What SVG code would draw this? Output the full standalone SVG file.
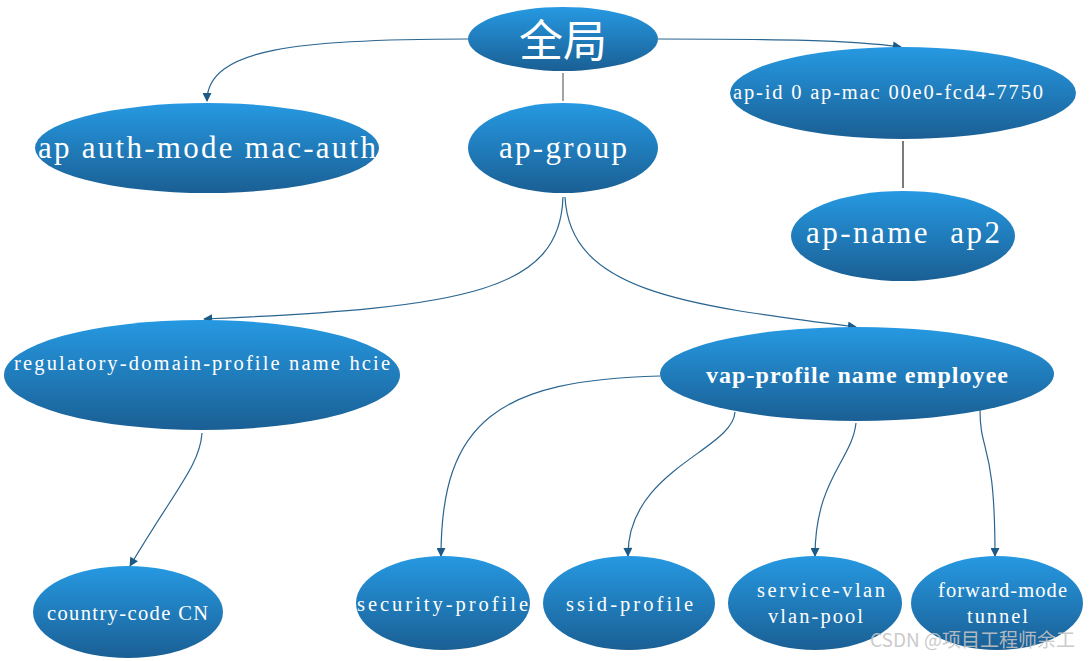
<svg xmlns="http://www.w3.org/2000/svg" width="1089" height="661" viewBox="0 0 1089 661">
<defs>
<linearGradient id="g" x1="0" y1="0" x2="0" y2="1">
<stop offset="0" stop-color="#2699e2"/>
<stop offset="1" stop-color="#1a5f94"/>
</linearGradient>
<marker id="ah" viewBox="0 0 10 10" refX="9" refY="5" markerWidth="10" markerHeight="9" markerUnits="userSpaceOnUse" orient="auto">
<path d="M0,0 L10,5 L0,10 z" fill="#1d5a86"/>
</marker>
<style>
.n{fill:url(#g);}
.t{fill:#fff;font-family:"Liberation Serif","DejaVu Serif",serif;text-anchor:middle;}
.L{font-size:31px;}
.S{font-size:20.5px;}
.c{fill:none;stroke:#2a6590;stroke-width:1.2;marker-end:url(#ah);}
.p{fill:none;stroke-width:1.2;}
</style>
</defs>
<g id="connectors">
<path class="c" d="M468,39 C300,39 207,48 207,101"/>
<path class="c" d="M658,39 C780,39 850,40 901,47"/>
<path class="p" stroke="#666" d="M563,73 L563,101"/>
<path class="p" stroke="#222" d="M903,141 L903,188"/>
<path class="c" d="M563,197 C560,290 470,308 204,319"/>
<path class="c" d="M565,197 C570,290 680,305 856,327"/>
<path class="c" d="M202,433 C200,465 175,490 130,566"/>
<path class="c" d="M660,376 C500,380 441,420 441,556"/>
<path class="c" d="M735,412 C733,450 627,470 628,556"/>
<path class="c" d="M856,423 C852,460 815,480 815,556"/>
<path class="c" d="M980,410 C980,455 995,440 995,556"/>
</g>
<g id="n-global"><ellipse class="n" cx="563" cy="39" rx="95" ry="32"/><text class="t" x="563" y="38" dominant-baseline="central" style="font-family:'Noto Sans CJK SC',sans-serif;font-size:44px">全局</text></g>
<g id="n-auth"><ellipse class="n" cx="207" cy="148" rx="172" ry="45"/><text class="t L" x="207" y="158" textLength="338" lengthAdjust="spacing">ap auth-mode mac-auth</text></g>
<g id="n-apgroup"><ellipse class="n" cx="563" cy="148" rx="95" ry="45"/><text class="t L" x="563" y="158" textLength="128" lengthAdjust="spacing">ap-group</text></g>
<g id="n-apid"><ellipse class="n" cx="903" cy="93" rx="173" ry="46"/><text class="t S" x="888" y="99" textLength="310" lengthAdjust="spacing">ap-id 0 ap-mac 00e0-fcd4-7750</text></g>
<g id="n-apname"><ellipse class="n" cx="903" cy="236" rx="112" ry="45"/><text class="t L" x="903" y="243" textLength="194" lengthAdjust="spacing" xml:space="preserve">ap-name  ap2</text></g>
<g id="n-reg"><ellipse class="n" cx="202" cy="375" rx="198" ry="55"/><text class="t S" x="202" y="370" textLength="376" lengthAdjust="spacing">regulatory-domain-profile name hcie</text></g>
<g id="n-vap"><ellipse class="n" cx="857" cy="374" rx="197" ry="47"/><text class="t" x="857" y="383" font-size="24" font-weight="bold" textLength="302" lengthAdjust="spacing">vap-profile name employee</text></g>
<g id="n-country"><ellipse class="n" cx="128" cy="612" rx="95" ry="46"/><text class="t S" x="127.5" y="620" textLength="161" lengthAdjust="spacing">country-code CN</text></g>
<g id="n-security"><ellipse class="n" cx="443" cy="603" rx="87" ry="47"/><text class="t S" x="442.5" y="611" textLength="171" lengthAdjust="spacing">security-profile</text></g>
<g id="n-ssid"><ellipse class="n" cx="629" cy="603" rx="86" ry="47"/><text class="t S" x="629.5" y="611" textLength="127" lengthAdjust="spacing">ssid-profile</text></g>
<g id="n-svlan"><ellipse class="n" cx="815" cy="603" rx="87" ry="47"/><text class="t S" x="821" y="597" textLength="128" lengthAdjust="spacing">service-vlan</text><text class="t S" x="815.5" y="623" textLength="95" lengthAdjust="spacing">vlan-pool</text></g>
<g id="n-fwd"><ellipse class="n" cx="997" cy="603" rx="86" ry="47"/><text class="t S" x="1002.5" y="597" textLength="129" lengthAdjust="spacing">forward-mode</text><text class="t S" x="997.5" y="623" textLength="61" lengthAdjust="spacing">tunnel</text></g>
<text x="1075" y="647" text-anchor="end" font-family="'Noto Sans CJK SC',sans-serif" font-size="19" fill="#c4c4c4" fill-opacity="0.9">CSDN @项目工程师余工</text>
</svg>
